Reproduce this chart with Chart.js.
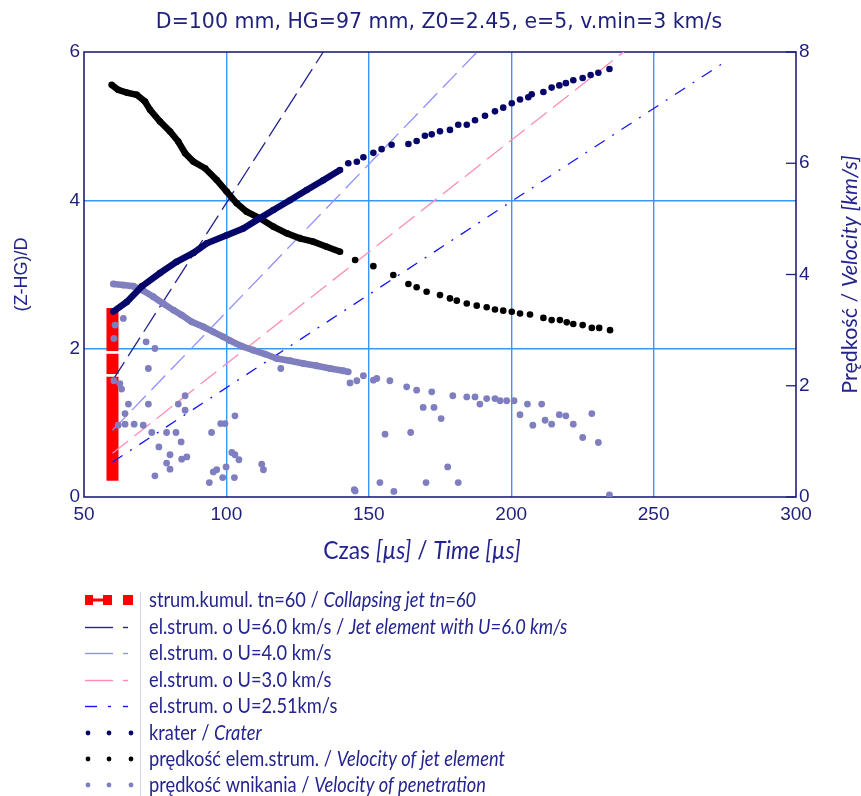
<!DOCTYPE html>
<html>
<head>
<meta charset="utf-8">
<script src="https://cdn.jsdelivr.net/npm/chart.js@4.4.1/dist/chart.umd.min.js"></script>
<style>
html,body{margin:0;padding:0;background:#ffffff;}
canvas{display:block;}
</style>
</head>
<body>
<canvas id="c" width="861" height="796"></canvas>
<script>
// ---------------- DATA ----------------
// Collapsing jet at tn = 60 us (red bar), left axis (Z-HG)/D
const jetBarT = [60, 60, null, 60, 60, null, 60, 60];
const jetBarZ = [0.22, 1.62, null, 1.66, 1.93, null, 1.97, 2.55];

// Jet element trajectories (left axis), start / end points
const u60T = [60, 134];   const u60Z = [1.57, 6.0];
const u40T = [60, 188];   const u40Z = [0.90, 6.0];
const u30T = [60, 239.5]; const u30Z = [0.59, 6.0];
const u251T = [60, 276];  const u251Z = [0.47, 5.89];

// Crater (left axis)
const craterT = [60.3,65.0,70.3,76.7,82.5,88.4,93.1,100.1,105.9,111.8,116.5,122.3,128.2,134.0,139.9,142.8,145.8,148.1,151.6,154.5,158.0,163.9,166.8,169.7,172.1,175.0,178.5,181.4,184.4,187.3,190.8,194.3,197.2,200.2,203.1,206.0,207.2,211.3,214.2,216.9,219.2,221.8,225.1,227.9,230.6,234.5];
const craterZ = [2.50,2.63,2.84,3.02,3.17,3.29,3.42,3.53,3.62,3.76,3.87,4.00,4.14,4.27,4.41,4.50,4.52,4.58,4.64,4.69,4.75,4.76,4.80,4.87,4.89,4.93,4.95,5.02,5.02,5.08,5.14,5.20,5.25,5.31,5.36,5.39,5.43,5.46,5.52,5.55,5.58,5.62,5.65,5.69,5.72,5.77];

// Velocity of jet element (right axis, km/s)
const jetVelT = [59.7,62.0,65.0,68.5,71.4,73.2,76.7,80.2,83.1,85.5,88.4,92.5,96.6,100.1,103.6,107.1,111.8,116.5,121.2,125.8,130.5,135.2,139.9,145.2,151.6,158.6,163.9,166.8,170.3,175.0,178.5,180.9,184.4,187.9,191.4,194.3,197.2,200.2,203.1,206.6,211.3,214.2,217.1,219.5,221.8,225.1,228.3,230.9,234.7];
const jetVelV = [7.41,7.32,7.27,7.23,7.11,6.96,6.75,6.57,6.39,6.18,6.03,5.91,5.70,5.49,5.28,5.13,5.01,4.86,4.74,4.65,4.59,4.50,4.41,4.26,4.15,3.99,3.83,3.77,3.69,3.63,3.57,3.53,3.48,3.44,3.41,3.37,3.35,3.33,3.30,3.28,3.22,3.18,3.18,3.14,3.11,3.09,3.04,3.04,3.00];

// Velocity of penetration (right axis, km/s) - main branch
const penT = [60.3,63.8,67.3,70.8,74.3,77.8,81.4,84.3,87.8,91.9,95.4,98.9,101.3,105.4,109.4,113.6,117.7,122.3,127.0,131.7,136.4,141.0,142.8,148.1,151.6,152.8,157.4,163.3,166.8,172.1,179.5,184.4,187.3,191.4,194.3,196.1,198.4,201.0,205.7,210.7];
const penV = [3.83,3.81,3.79,3.71,3.60,3.48,3.36,3.27,3.15,3.06,2.97,2.88,2.81,2.71,2.64,2.57,2.49,2.45,2.40,2.36,2.31,2.27,2.25,2.18,2.10,2.13,2.09,1.98,1.92,1.89,1.82,1.80,1.80,1.77,1.77,1.73,1.73,1.73,1.67,1.67];
// Velocity of penetration - scattered points
const penScT = [145.8,143.4,189.0,169.1,172.9,175.4,203.1,207.6,211.9,214.2,216.9,219.2,221.8,225.1,228.3,230.6,155.7,164.7,177.7,153.9,170.1,181.4,145.2,158.8,234.5,63.8,60.9,60.5,71.8,74.9,72.6,60.5,62.6,63.2,65.6,64.4,72.6,62.0,64.4,67.6,70.8,73.8,76.3,79.0,82.3,80.2,79.0,80.2,84.1,84.3,86.1,83.1,85.5,85.5,74.9,94.8,98.0,99.5,103.0,101.9,103.0,104.4,99.9,96.6,95.4,94.0,98.7,102.8,112.4,113.0,119.1,144.9];
const penScV = [2.09,2.05,1.67,1.61,1.61,1.41,1.48,1.29,1.38,1.31,1.48,1.46,1.31,1.07,1.50,0.98,1.13,1.16,0.54,0.26,0.26,0.26,0.11,0.10,0.04,3.21,3.09,2.85,2.79,2.67,2.31,2.09,2.04,1.94,1.67,1.50,1.67,1.29,1.31,1.31,1.29,1.16,0.90,1.16,1.16,0.76,0.61,0.50,0.99,0.68,0.72,1.67,1.56,1.82,0.38,1.16,1.32,1.32,1.46,0.80,0.76,0.67,0.54,0.49,0.45,0.26,0.35,0.35,0.59,0.49,2.31,0.13];

// Texts
const titleText = "D=100 mm, HG=97 mm, Z0=2.45, e=5, v.min=3 km/s";
const xTitleParts = [["Czas ", false], ["[µs]", true], [" / ", false], ["Time [µs]", true]];
const yTitleText = "(Z-HG)/D";
const y2TitleParts = [["Prędkość / ", false], ["Velocity [km/s]", true]];
const legendRows = [
  [["strum.kumul. tn=60 / ", false], ["Collapsing jet tn=60", true]],
  [["el.strum. o U=6.0 km/s / ", false], ["Jet element with U=6.0 km/s", true]],
  [["el.strum. o U=4.0 km/s", false]],
  [["el.strum. o U=3.0 km/s", false]],
  [["el.strum. o U=2.51km/s", false]],
  [["krater / ", false], ["Crater", true]],
  [["prędkość elem.strum. / ", false], ["Velocity of jet element", true]],
  [["prędkość wnikania / ", false], ["Velocity of penetration", true]]
];

// ---------------- STYLE ----------------
const NAVY = '#1f1f7c';
const TXT = '#24248f';
const GRID = '#3b97f2';
const RED = '#ff0000';
const C_U60 = '#232391';
const C_U40 = '#8f8fff';
const C_U30 = '#ff8cb4';
const C_U251 = '#1414ff';
const C_CRATER = '#06066a';
const C_JET = '#000000';
const C_PEN = '#7f7fc0';
const FONT = "'Liberation Sans', Arial, sans-serif";
const TFONT = "'DejaVu Sans', Verdana, sans-serif";
const LFONT = "Lato, 'Open Sans', sans-serif";

const pts = (xs, ys) => xs.map((x, i) => (x === null ? {x: NaN, y: NaN} : {x: x, y: ys[i]}));

const denseSeg = (limit, color) => ({
  borderColor: c => (c.p1.parsed.x <= limit ? color : 'rgba(0,0,0,0)')
});

const datasets = [
  {label: 'crater', data: pts(craterT, craterZ), yAxisID: 'y', showLine: true, borderWidth: 6.5,
   segment: denseSeg(141, C_CRATER), borderColor: C_CRATER, backgroundColor: C_CRATER,
   pointRadius: 3.3, pointBorderWidth: 0, order: 1},
  {label: 'jetvel', data: pts(jetVelT, jetVelV), yAxisID: 'y2', showLine: true, borderWidth: 6.5,
   segment: denseSeg(141, C_JET), borderColor: C_JET, backgroundColor: C_JET,
   pointRadius: 3.3, pointBorderWidth: 0, order: 2},
  {label: 'pen', data: pts(penT, penV), yAxisID: 'y2', showLine: true, borderWidth: 6.5,
   segment: denseSeg(143, C_PEN), borderColor: C_PEN, backgroundColor: C_PEN,
   pointRadius: 3.4, pointBorderWidth: 0, order: 3},
  {label: 'penSc', data: pts(penScT, penScV), yAxisID: 'y2', showLine: false,
   backgroundColor: C_PEN, borderColor: C_PEN, pointRadius: 3.4, pointBorderWidth: 0, order: 3},
  {label: 'u60', data: pts(u60T, u60Z), yAxisID: 'y', showLine: true, borderColor: C_U60,
   borderWidth: 1.3, borderDash: [22, 7], pointRadius: 0, order: 5},
  {label: 'u40', data: pts(u40T, u40Z), yAxisID: 'y', showLine: true, borderColor: C_U40,
   borderWidth: 1.3, borderDash: [20, 8], pointRadius: 0, order: 6},
  {label: 'u30', data: pts(u30T, u30Z), yAxisID: 'y', showLine: true, borderColor: C_U30,
   borderWidth: 1.3, borderDash: [20, 8], pointRadius: 0, order: 7},
  {label: 'u251', data: pts(u251T, u251Z), yAxisID: 'y', showLine: true, borderColor: C_U251,
   borderWidth: 1.3, borderDash: [12, 9, 2, 9], pointRadius: 0, order: 8},
  {label: 'bar', data: pts(jetBarT, jetBarZ), yAxisID: 'y', showLine: true, spanGaps: false,
   borderColor: RED, borderWidth: 12, borderCapStyle: 'butt', pointRadius: 0, order: 10}
];

function richWidth(ctx, parts, size, family) {
  let w = 0;
  for (const [t, it] of parts) {
    ctx.font = (it ? 'italic ' : '') + size + 'px ' + family;
    w += ctx.measureText(t).width;
  }
  return w;
}
function drawRich(ctx, parts, x, y, size, family, color, align, sx) {
  sx = sx || 1;
  const w = richWidth(ctx, parts, size, family) * sx;
  ctx.save();
  ctx.translate(align === 'center' ? x - w / 2 : x, y);
  ctx.scale(sx, 1);
  let cx = 0;
  ctx.fillStyle = color;
  ctx.textBaseline = 'middle';
  ctx.textAlign = 'left';
  for (const [t, it] of parts) {
    ctx.font = (it ? 'italic ' : '') + size + 'px ' + family;
    ctx.fillText(t, cx, 0);
    cx += ctx.measureText(t).width;
  }
  ctx.restore();
}

const decor = {
  id: 'decor',
  beforeDatasetsDraw(chart) {
    const {ctx, chartArea: a} = chart;
    ctx.save();
    ctx.strokeStyle = NAVY;
    ctx.lineWidth = 1.6;
    ctx.strokeRect(a.left, a.top, a.right - a.left, a.bottom - a.top);
    // inner ticks of right axis
    const y2 = chart.scales.y2;
    ctx.lineWidth = 1.3;
    for (const t of y2.ticks) {
      const yy = y2.getPixelForValue(t.value);
      ctx.beginPath();
      ctx.moveTo(a.right - 10, yy);
      ctx.lineTo(a.right, yy);
      ctx.stroke();
    }
    ctx.restore();
  },
  afterDraw(chart) {
    const {ctx, chartArea: a} = chart;
    ctx.save();
    // title
    drawRich(ctx, [[titleText, false]], 439, 23, 20.5, TFONT, NAVY, 'center');
    // x title
    drawRich(ctx, xTitleParts, 422, 551, 24.5, LFONT, TXT, 'center', 0.93);
    // left y title
    ctx.save();
    ctx.translate(22, (a.top + a.bottom) / 2);
    ctx.rotate(-Math.PI / 2);
    drawRich(ctx, [[yTitleText, false]], 0, 0, 18, FONT, TXT, 'center');
    ctx.restore();
    // right y title
    ctx.save();
    ctx.translate(850, (a.top + a.bottom) / 2);
    ctx.rotate(-Math.PI / 2);
    drawRich(ctx, y2TitleParts, 0, 0, 21.5, LFONT, TXT, 'center');
    ctx.restore();

    // legend
    const rowsY = [600, 627, 653, 680, 706, 733, 759, 785];
    // separator
    ctx.strokeStyle = '#d4d4e4';
    ctx.lineWidth = 1;
    ctx.beginPath(); ctx.moveTo(140.5, 592); ctx.lineTo(140.5, 796); ctx.stroke();
    // row 0: red bar marker
    let y = rowsY[0];
    ctx.fillStyle = RED;
    ctx.fillRect(85, y - 5, 8, 10);
    ctx.fillRect(93, y - 1.5, 10, 3);
    ctx.fillRect(103, y - 5, 9, 10);
    ctx.fillRect(123, y - 5, 10, 10);
    // rows 1-4: lines
    const lineMarks = [[C_U60, [[85, 113], [123, 128]]], [C_U40, [[85, 113], [123, 128]]],
                       [C_U30, [[85, 113], [123, 128]]], [C_U251, [[85, 97], [108, 111], [123, 128]]]];
    lineMarks.forEach(([col, segs], i) => {
      const yy = rowsY[i + 1] + 0.5;
      ctx.strokeStyle = col; ctx.lineWidth = 1.4;
      for (const [x0, x1] of segs) {
        ctx.beginPath(); ctx.moveTo(x0, yy); ctx.lineTo(x1, yy); ctx.stroke();
      }
    });
    // rows 5-7: dots
    [C_CRATER, C_JET, C_PEN].forEach((col, i) => {
      const yy = rowsY[i + 5];
      ctx.fillStyle = col;
      for (const xx of [88, 109, 131]) {
        ctx.beginPath(); ctx.arc(xx, yy, 2.4, 0, Math.PI * 2); ctx.fill();
      }
    });
    legendRows.forEach((parts, i) => {
      drawRich(ctx, parts, 149, rowsY[i], 20.5, LFONT, TXT, 'left', 0.89);
    });
    ctx.restore();
  }
};

new Chart(document.getElementById('c'), {
  type: 'scatter',
  data: {datasets: datasets},
  options: {
    responsive: false,
    animation: false,
    layout: {padding: {top: 52, left: 0, right: 0, bottom: 0}},
    plugins: {legend: {display: false}, title: {display: false}, tooltip: {enabled: false}},
    scales: {
      x: {
        type: 'linear', min: 50, max: 300,
        ticks: {stepSize: 50, color: NAVY, font: {family: FONT, size: 19}, padding: 6},
        grid: {color: c => (c.tick.value === 50 || c.tick.value === 300) ? 'rgba(0,0,0,0)' : GRID,
               lineWidth: 1.4, drawTicks: false},
        border: {display: false},
        afterFit(s) { s.height = 299; }
      },
      y: {
        type: 'linear', position: 'left', min: 0, max: 6,
        ticks: {stepSize: 2, color: NAVY, font: {family: FONT, size: 19}, padding: 4},
        grid: {color: c => (c.tick.value === 0 || c.tick.value === 6) ? 'rgba(0,0,0,0)' : GRID,
               lineWidth: 1.4, drawTicks: false},
        border: {display: false},
        afterFit(s) { s.width = 84; }
      },
      y2: {
        type: 'linear', position: 'right', min: 0, max: 8,
        ticks: {stepSize: 2, color: NAVY, font: {family: FONT, size: 19}, padding: 3},
        grid: {drawOnChartArea: false, drawTicks: false},
        border: {display: false},
        afterFit(s) { s.width = 65; }
      }
    }
  },
  plugins: [decor]
});
</script>
</body>
</html>
